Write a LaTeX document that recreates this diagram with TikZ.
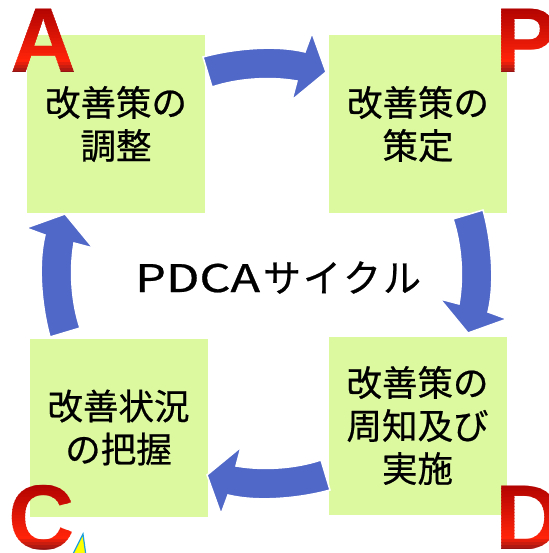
\documentclass[tikz,border=0pt]{standalone}
\usepackage{fontspec}
\setmainfont{Liberation Sans}
\newfontfamily\jp[FakeBold=0.6]{Noto Sans CJK JP}
\newfontfamily\bigsans{Liberation Sans}
\definecolor{boxfill}{RGB}{221,249,160}
\definecolor{arrowblue}{RGB}{80,104,200}
\definecolor{redtop}{RGB}{170,0,0}
\definecolor{redbottom}{RGB}{255,35,10}
\definecolor{redshadow}{RGB}{150,20,20}
\definecolor{triyellow}{RGB}{255,255,0}
\definecolor{triblue}{RGB}{30,160,220}
\tikzset{
  stepbox/.style={fill=boxfill, draw=none, minimum width=178pt, minimum height=178pt,
    inner sep=0pt, align=center, font=\jp\fontsize{35.5}{43}\selectfont},
  bigletter/.style={font=\bigsans\bfseries\fontsize{92}{92}\selectfont, inner sep=0pt, anchor=base west},
  bluearrow/.style={fill=arrowblue, draw=white, line width=1.5pt, line join=miter},
  titletext/.style={font=\jp\fontsize{38}{40}\selectfont, inner sep=0pt, anchor=base west}
}
\newcommand{\glossyletter}[4]{%
  \foreach \k in {0,...,23}{%
    \pgfmathtruncatemacro{\pc}{max(0,100-100*\k/19)}%
    \pgfmathtruncatemacro{\pd}{\k>19 ? 100-25*(\k-19) : 100}%
    \begin{scope}
      \clip (#1-10,#2-70+3*\k) rectangle (#1+90,#2-70+3*\k+3.6);
      \node[bigletter, text=redtop!\pc!redbottom!\pd!redshadow] (#4\k) at (#1,#2) {#3};
    \end{scope}
  }%
}
\newcommand{\kana}[1]{\makebox[40pt]{#1}}
\begin{document}
\begin{tikzpicture}[x=1pt,y=-1pt]
\useasboundingbox (0,0) rectangle (548,553);
% boxes
\node[stepbox] (act) at (116,124) {改善策の\\調整};
\node[stepbox] (plan) at (418,124) {改善策の\\策定};
\node[stepbox] (check) at (118.5,427.5) {改善状況\\の把握};
\node[stepbox] (do) at (417.5,425.5) {改善策の\\周知及び\\実施};
% arrows
\foreach \ang in {0,-90,-180,-270}{
  \draw[bluearrow, rotate around={\ang:(266.5,273.5)}]
    (203,57) .. controls (228,50) and (272,44) .. (305,52)
    -- (312,33) -- (326,72) -- (292,100) -- (297,81)
    .. controls (268,76) and (236,79) .. (212,87) -- cycle;
}
% title
\node[titletext] (title) at (135,292) {\scalebox{1.28}[1]{PDCA}\hspace{2pt}\kana{サ}\kana{イ}\kana{ク}\kana{ル}};
% small triangle
\draw[fill=triyellow, draw=triblue, line width=1.2pt] (72,556) -- (83,534) -- (86,556) -- cycle;
% letters
\glossyletter{10}{73}{A}{letA}
\glossyletter{495}{73}{P}{letP}
\glossyletter{8.5}{549}{C}{letC}
\glossyletter{495}{549}{D}{letD}
\end{tikzpicture}
\end{document}
